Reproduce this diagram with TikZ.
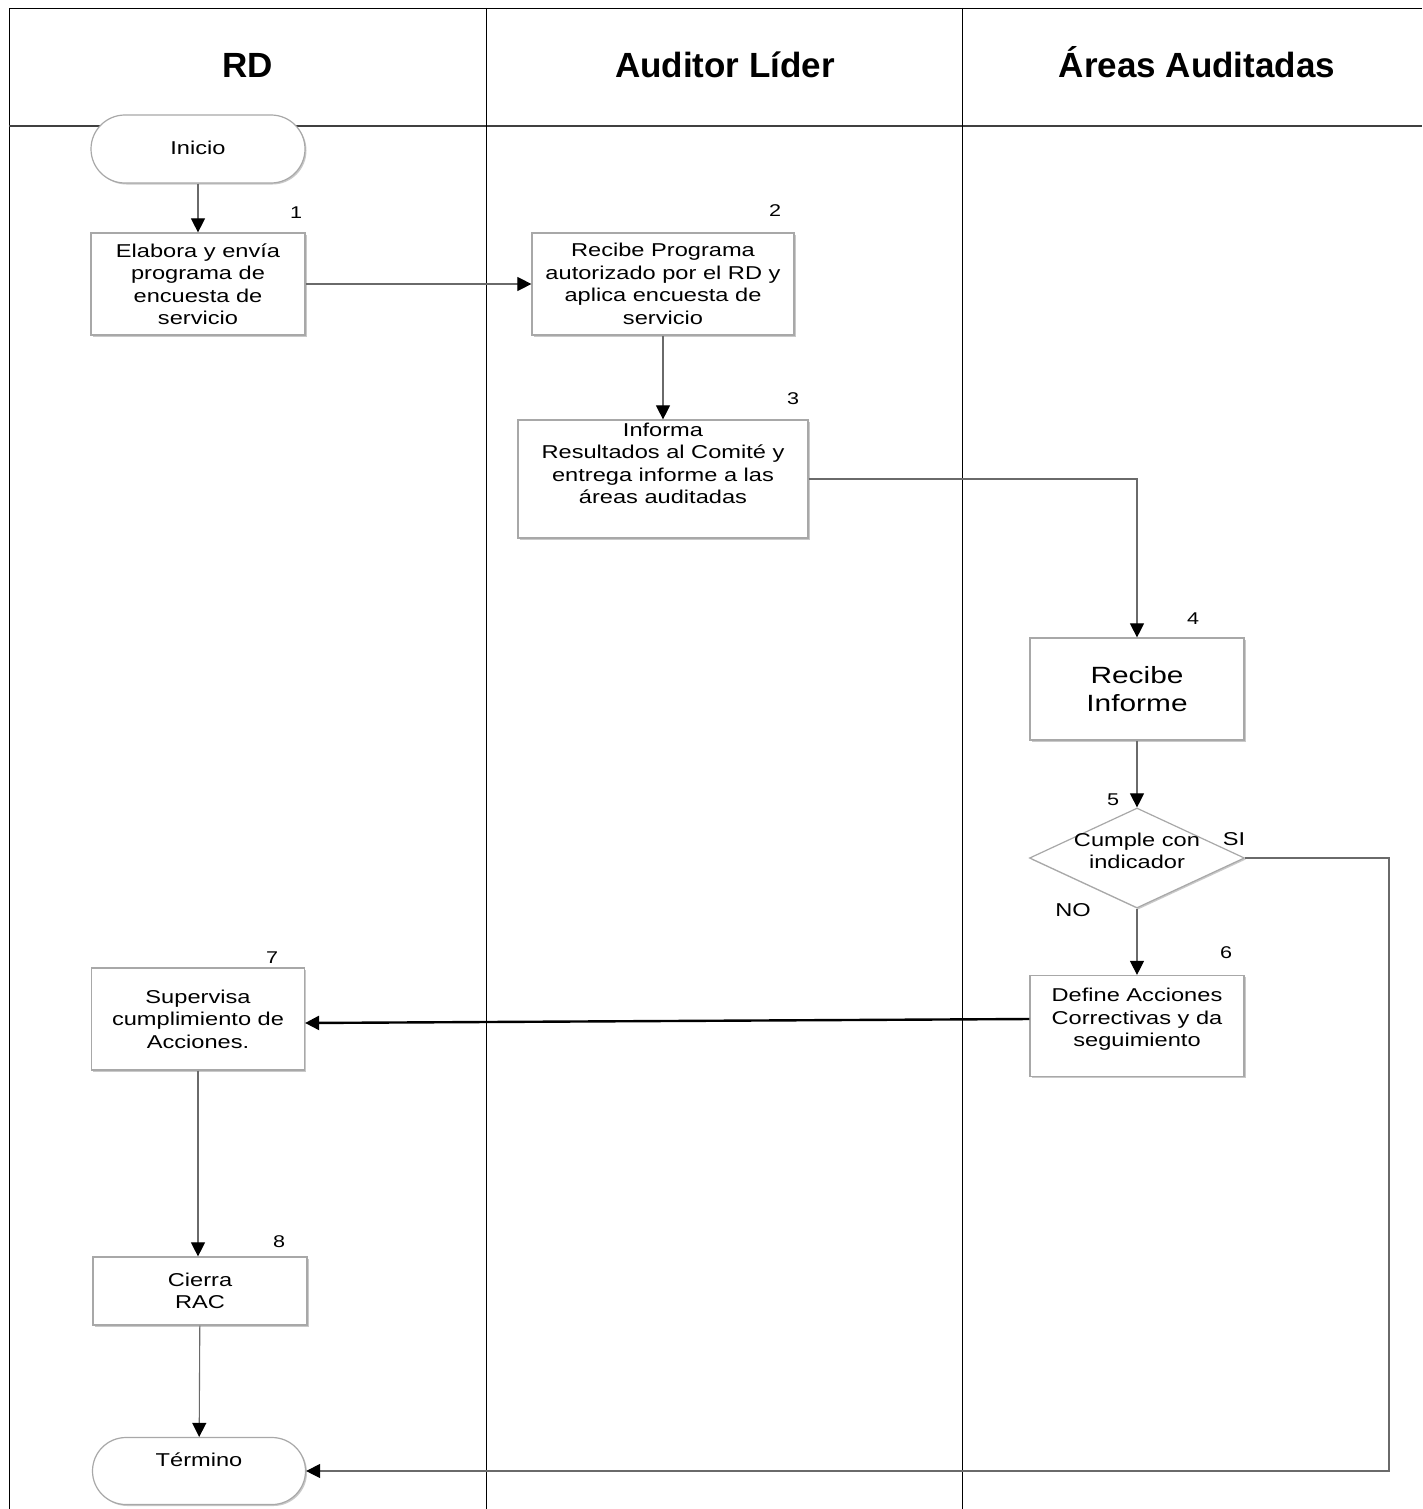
\documentclass[tikz,border=0pt]{standalone}
\usepackage{fontspec}
\setmainfont{Liberation Sans}
\newfontfamily\bodyf[FakeStretch=1.27]{Liberation Sans}
\newfontfamily\titlef{Liberation Sans}
\usetikzlibrary{arrows.meta,shapes.geometric,shapes.misc,shadows}
\definecolor{boxline}{HTML}{A8A8A8}
\definecolor{conn}{HTML}{6A6A6A}
\tikzset{
  lane/.style={draw=black, line width=0.9pt},
  title/.style={font=\titlef\bfseries\fontsize{35}{40}\selectfont, anchor=base},
  boxshape/.style={draw=boxline, line width=1.2pt, fill=white,
     drop shadow={shadow xshift=1.5pt, shadow yshift=-1.5pt, fill=black!35, opacity=0.6}},
  stepbox/.style={boxshape, rectangle, inner sep=0pt, align=center,
     font=\bodyf\fontsize{18.6}{22.5}\selectfont},
  termbox/.style={boxshape, rounded rectangle, inner sep=0pt},
  decbox/.style={boxshape, diamond, inner sep=0pt},
  num/.style={font=\bodyf\fontsize{17}{20}\selectfont, inner sep=0pt},
  lbl/.style={font=\bodyf\fontsize{18.6}{22.5}\selectfont, inner sep=0pt, align=center},
  conn/.style={draw=conn, line width=1.1pt,
     -{Triangle[width=14pt,length=14pt,color=black]}},
}
\begin{document}
\begin{tikzpicture}[x=1pt,y=-1pt]
\useasboundingbox (0,0) rectangle (1422,1509);
\fill[white] (0,0) rectangle (1422,1509);
% lanes
\draw[lane] (9,1509) -- (9,8) -- (1422,8);
\draw[lane, line width=1.5pt, draw=black!75] (9,126) -- (1422,126);
\draw[lane] (486,8) -- (486,1509);
\draw[lane] (962,8) -- (962,1509);
\node[title] (t1) at (248,78) {RD};
\node[title] (t2) at (725,78) {Auditor Líder};
\node[title] (t3) at (1197,78) {Áreas Auditadas};

% nodes
\node[termbox, minimum width=214pt, minimum height=68pt,
  label={[lbl, yshift=1pt]center:Inicio}] (ini) at (198,149) {};
\node[stepbox, minimum width=214pt, minimum height=102pt] (b1) at (198,284)
  {Elabora y envía\\programa de\\encuesta de\\servicio};
\node[stepbox, minimum width=262pt, minimum height=102pt] (b2) at (663,284)
  {Recibe Programa\\autorizado por el RD y\\aplica encuesta de\\servicio};
\node[stepbox, minimum width=290pt, minimum height=118pt,
  label={[lbl, anchor=north, yshift=-3pt]north:Informa\\Resultados al Comité y\\entrega informe a las\\áreas auditadas}] (b3) at (663,479) {};
\node[stepbox, minimum width=214pt, minimum height=102pt,
  font=\bodyf\fontsize{23.5}{28.5}\selectfont] (b4) at (1137,689) {Recibe\\Informe};
\node[decbox, minimum width=215pt, minimum height=100pt,
  label={[lbl, yshift=7pt]center:Cumple con\\indicador}] (d5) at (1137,858) {};
\node[stepbox, minimum width=214pt, minimum height=101pt,
  label={[lbl, anchor=north, yshift=-13pt]north:Define Acciones\\Correctivas y da\\seguimiento}] (b6) at (1137,1026) {};
\node[stepbox, minimum width=213pt, minimum height=102pt] (b7) at (198,1019)
  {Supervisa\\cumplimiento de\\Acciones.};
\node[stepbox, minimum width=214pt, minimum height=68pt] (b8) at (200,1291)
  {Cierra\\RAC};
\node[termbox, minimum width=213pt, minimum height=67pt,
  label={[lbl, yshift=11pt]center:Término}] (fin) at (199,1471) {};

% numbers
\node[num] (n1) at (296,213) {1};
\node[num] (n2) at (775,211) {2};
\node[num] (n3) at (793,399) {3};
\node[num] (n4) at (1193,619) {4};
\node[num] (n5) at (1113,800) {5};
\node[num] (n6) at (1226,953) {6};
\node[num] (n7) at (272,958) {7};
\node[num] (n8) at (279,1242) {8};
\node[lbl] (si) at (1234,839) {SI};
\node[lbl] (no) at (1073,910) {NO};

% connectors
\draw[conn] (ini) -- (b1);
\draw[conn] (b1) -- (b2);
\draw[conn] (b2) -- (b3);
\draw[conn] (b3.east) -| (b4.north);
\draw[conn] (b4) -- (d5);
\draw[conn] (d5) -- (b6);
\draw[conn, draw=black, line width=2.4pt] ([yshift=7pt]b6.west) -- ([yshift=-4pt]b7.east);
\draw[conn] (b7.south -| 198,0) -- (b8.north -| 198,0);
\draw[conn] (b8) -- (fin);
\coordinate (turn) at (1389,858);
\draw[conn] (d5.east) -- (turn) -- (turn |- fin.east) -- (fin.east);
\end{tikzpicture}
\end{document}
